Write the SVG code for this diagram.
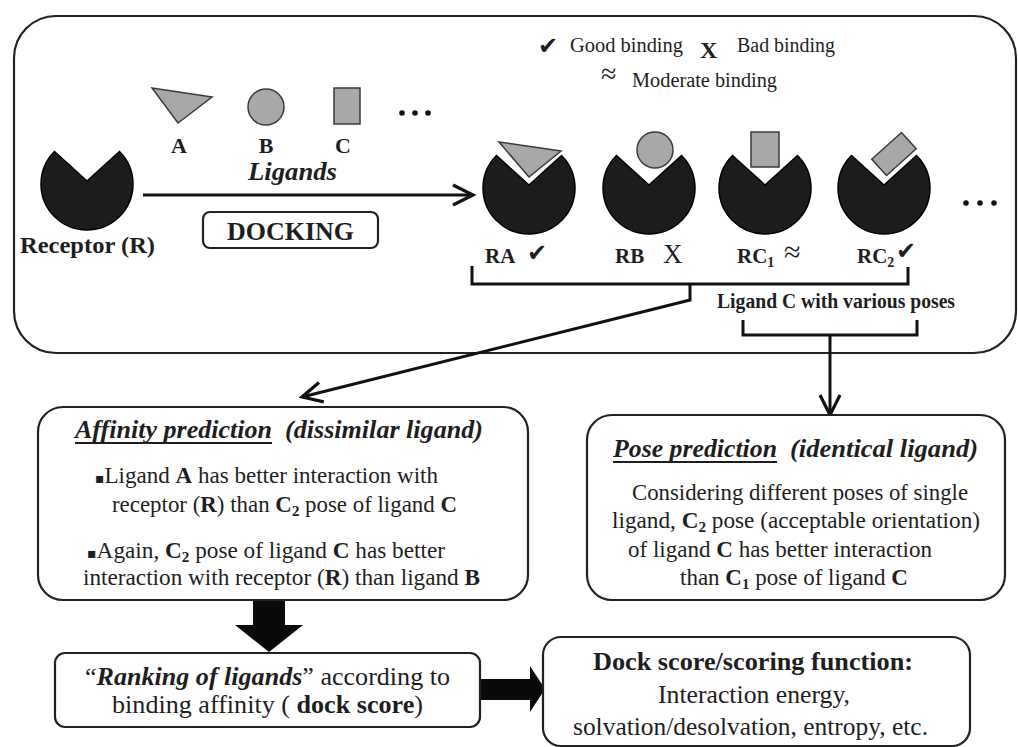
<svg xmlns="http://www.w3.org/2000/svg" width="1018" height="747" viewBox="0 0 1018 747">
<style>
.t{font-family:'Liberation Serif',serif;fill:#1e1e1e}
.b{font-weight:bold}
.bi{font-weight:bold;font-style:italic}
.sym{font-family:'DejaVu Sans',sans-serif}
.box{fill:#fff;stroke:#222;stroke-width:2.2}
.pac{fill:#1c1c1c;stroke:#000;stroke-width:1.5}
.lig{fill:#a8a8a8;stroke:#3a3a3a;stroke-width:1.5}
.halo{fill:none;stroke:#fff;stroke-width:6;stroke-linejoin:round}
.conn{fill:none;stroke:#111;stroke-width:3}
.solid{fill:#0a0a0a}
</style>
<defs>
<path id="pac" d="M0,-3 L-32.5,-32.5 A46,46 0 1 0 32.5,-32.5 Z"/>
<marker id="vee" markerUnits="userSpaceOnUse" markerWidth="26" markerHeight="26" viewBox="0 0 26 26" refX="22" refY="12" orient="auto">
<path d="M2,2 L22,12 L2,22" fill="none" stroke="#111" stroke-width="3.2"/>
</marker>
</defs>
<rect width="1018" height="747" fill="#fff"/>

<g id="outer-panel">
<rect class="box" x="14" y="16" width="1002" height="337" rx="42" fill="none"/>
</g>

<g id="legend" class="t" font-family="Liberation Serif">
<text class="sym" x="538" y="54" font-size="24">✔</text>
<text x="570" y="52" font-size="20" textLength="113" lengthAdjust="spacingAndGlyphs">Good binding</text>
<text class="b" x="700" y="58" font-size="24">X</text>
<text x="737" y="52" font-size="20" textLength="98" lengthAdjust="spacingAndGlyphs">Bad binding</text>
<text x="601" y="83" font-size="28">≈</text>
<text x="632" y="87" font-size="20" textLength="145" lengthAdjust="spacingAndGlyphs">Moderate binding</text>
</g>

<g id="receptor" class="t" font-family="Liberation Serif">
<use href="#pac" class="pac" transform="translate(87,184)"/>
<text class="b" x="20" y="253" font-size="24" textLength="135" lengthAdjust="spacingAndGlyphs">Receptor (R)</text>
</g>

<g id="ligands" class="t" font-family="Liberation Serif">
<polygon class="lig" points="152,88 212,97 178,123"/>
<circle class="lig" cx="266" cy="107" r="18"/>
<rect class="lig" x="334" y="88" width="26" height="36"/>
<circle cx="402" cy="113" r="2.8" fill="#111"/>
<circle cx="415" cy="113" r="2.8" fill="#111"/>
<circle cx="428" cy="113" r="2.8" fill="#111"/>
<text class="b" x="179" y="153" font-size="22" text-anchor="middle">A</text>
<text class="b" x="266" y="153" font-size="22" text-anchor="middle">B</text>
<text class="b" x="343" y="153" font-size="22" text-anchor="middle">C</text>
<text class="bi" x="248" y="180" font-size="26" textLength="89" lengthAdjust="spacingAndGlyphs">Ligands</text>
</g>

<g id="docking-label" class="t" font-family="Liberation Serif">
<rect class="box" x="203" y="212" width="175" height="36" rx="7"/>
<text class="b" x="227" y="240" font-size="26" textLength="127" lengthAdjust="spacingAndGlyphs">DOCKING</text>
</g>

<g id="complex-RA" class="t" font-family="Liberation Serif">
<use href="#pac" class="pac" transform="translate(529,188)"/>
<polygon class="halo" points="499,142 561,151 529,177"/>
<polygon class="lig" points="499,142 561,151 529,177"/>
<text class="b" x="485" y="263" font-size="21">RA</text>
<text class="sym" x="527" y="261" font-size="24">✔</text>
</g>

<g id="complex-RB" class="t" font-family="Liberation Serif">
<use href="#pac" class="pac" transform="translate(649,188)"/>
<circle class="lig" cx="655" cy="150" r="18"/>
<text class="b" x="615" y="263" font-size="21">RB</text>
<text x="663" y="263" font-size="27">X</text>
</g>

<g id="complex-RC1" class="t" font-family="Liberation Serif">
<use href="#pac" class="pac" transform="translate(765,188)"/>
<rect class="lig" x="751" y="132" width="28" height="35"/>
<text class="b" x="737" y="263" font-size="21">RC<tspan font-size="14" dy="4">1</tspan></text>
<text x="784" y="262" font-size="30">≈</text>
</g>

<g id="complex-RC2" class="t" font-family="Liberation Serif">
<use href="#pac" class="pac" transform="translate(884,188)"/>
<rect class="halo" x="-20" y="-11" width="40" height="22" transform="translate(894,154) rotate(-42)"/>
<rect class="lig" x="-20" y="-11" width="40" height="22" transform="translate(894,154) rotate(-42)"/>
<text class="b" x="857" y="263" font-size="21">RC<tspan font-size="14" dy="4">2</tspan></text>
<text class="sym" x="896" y="259" font-size="24">✔</text>
</g>

<g id="more-complexes">
<circle cx="966" cy="203" r="2.8" fill="#111"/>
<circle cx="980" cy="203" r="2.8" fill="#111"/>
<circle cx="994" cy="203" r="2.8" fill="#111"/>
</g>

<g id="poses-label" class="t" font-family="Liberation Serif">
<text class="b" x="717" y="308" font-size="20" textLength="238" lengthAdjust="spacingAndGlyphs">Ligand C with various poses</text>
</g>

<g id="connectors">
<line class="conn" x1="143" y1="195" x2="473" y2="195" marker-end="url(#vee)" stroke-width="3.5"/>
<polyline class="conn" points="472,266 472,284 908,284 908,267" stroke-width="2.5"/>
<polyline class="conn" points="690,284 690,300 302,397" marker-end="url(#vee)"/>
<polyline class="conn" points="743,320 743,335 917,335 917,320"/>
<line class="conn" x1="830" y1="335" x2="830" y2="415" marker-end="url(#vee)"/>
<polygon class="solid" points="253,600 285,600 285,625 303,625 269,652 235,625 253,625"/>
<polygon class="solid" points="480,679 530,679 530,666 545,689 530,712 530,700 480,700"/>
</g>

<g id="affinity-box" class="t" font-family="Liberation Serif">
<rect class="box" x="38" y="407" width="490" height="193" rx="25"/>
<text class="bi" x="75" y="438" font-size="25" textLength="197" lengthAdjust="spacingAndGlyphs">Affinity prediction</text>
<line x1="75" y1="443" x2="272" y2="443" stroke="#1e1e1e" stroke-width="1.8"/>
<text class="bi" x="285" y="438" font-size="25" textLength="198" lengthAdjust="spacingAndGlyphs">(dissimilar ligand)</text>
<text x="95" y="483" font-size="23" textLength="343" lengthAdjust="spacingAndGlyphs"><tspan class="sym" font-size="14">▪</tspan>Ligand <tspan class="b">A</tspan> has better interaction with</text>
<text x="112" y="512" font-size="23" textLength="345" lengthAdjust="spacingAndGlyphs">receptor (<tspan class="b">R</tspan>) than <tspan class="b">C</tspan><tspan class="b" font-size="15" dy="4">2</tspan><tspan dy="-4"> pose of ligand </tspan><tspan class="b">C</tspan></text>
<text x="87" y="558" font-size="23" textLength="358" lengthAdjust="spacingAndGlyphs"><tspan class="sym" font-size="14">▪</tspan>Again, <tspan class="b">C</tspan><tspan class="b" font-size="15" dy="4">2</tspan><tspan dy="-4"> pose of ligand </tspan><tspan class="b">C</tspan> has better</text>
<text x="83" y="585" font-size="23" textLength="397" lengthAdjust="spacingAndGlyphs">interaction with receptor (<tspan class="b">R</tspan>) than ligand <tspan class="b">B</tspan></text>
</g>

<g id="pose-box" class="t" font-family="Liberation Serif">
<rect class="box" x="587" y="415" width="418" height="185" rx="25"/>
<text class="bi" x="613" y="457" font-size="25" textLength="164" lengthAdjust="spacingAndGlyphs">Pose prediction</text>
<line x1="613" y1="462" x2="777" y2="462" stroke="#1e1e1e" stroke-width="1.8"/>
<text class="bi" x="790" y="457" font-size="25" textLength="188" lengthAdjust="spacingAndGlyphs">(identical ligand)</text>
<text x="632" y="500" font-size="23" textLength="336" lengthAdjust="spacingAndGlyphs">Considering different poses of single</text>
<text x="612" y="528" font-size="23" textLength="368" lengthAdjust="spacingAndGlyphs">ligand, <tspan class="b">C</tspan><tspan class="b" font-size="15" dy="4">2</tspan><tspan dy="-4"> pose (acceptable orientation)</tspan></text>
<text x="628" y="557" font-size="23" textLength="304" lengthAdjust="spacingAndGlyphs">of ligand <tspan class="b">C</tspan> has better interaction</text>
<text x="680" y="585" font-size="23" textLength="228" lengthAdjust="spacingAndGlyphs">than <tspan class="b">C</tspan><tspan class="b" font-size="15" dy="4">1</tspan><tspan dy="-4"> pose of ligand </tspan><tspan class="b">C</tspan></text>
</g>

<g id="ranking-box" class="t" font-family="Liberation Serif">
<rect class="box" x="55" y="653" width="425" height="74" rx="10"/>
<text x="85" y="685" font-size="26" textLength="365" lengthAdjust="spacingAndGlyphs">“<tspan class="bi">Ranking of ligands</tspan>” according to</text>
<text x="112" y="713" font-size="26" textLength="311" lengthAdjust="spacingAndGlyphs">binding affinity ( <tspan class="b">dock score</tspan>)</text>
</g>

<g id="dockscore-box" class="t" font-family="Liberation Serif">
<rect class="box" x="543" y="637" width="427" height="109" rx="18"/>
<text class="b" x="593" y="670" font-size="26" textLength="320" lengthAdjust="spacingAndGlyphs">Dock score/scoring function:</text>
<text x="658" y="703" font-size="25" textLength="192" lengthAdjust="spacingAndGlyphs">Interaction energy,</text>
<text x="573" y="735" font-size="25" textLength="355" lengthAdjust="spacingAndGlyphs">solvation/desolvation, entropy, etc.</text>
</g>
</svg>
